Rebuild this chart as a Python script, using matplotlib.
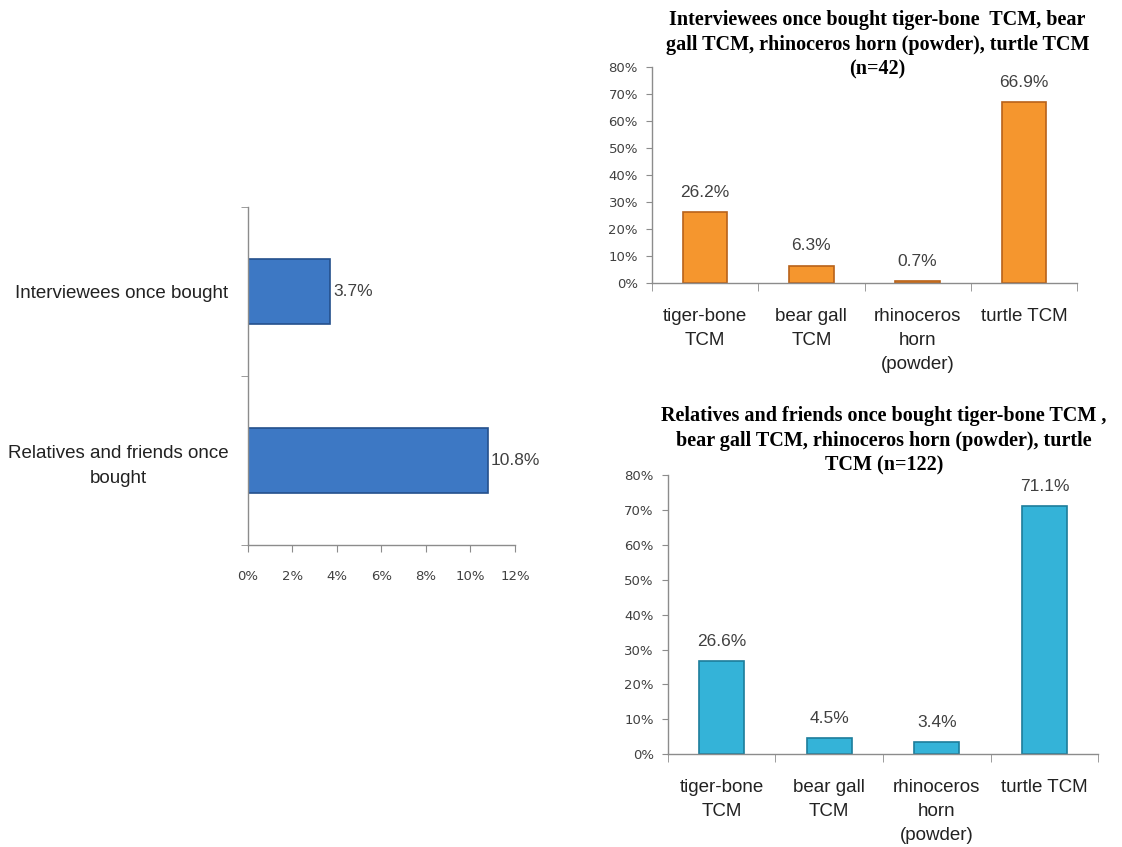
import numpy as np
import matplotlib.pyplot as plt

# left chart: share who once bought
who = ["Relatives and friends once\nbought", "Interviewees once bought"]
who_pct = [10.8, 3.7]

# right charts
items = ["tiger-bone\nTCM", "bear gall\nTCM", "rhinoceros\nhorn\n(powder)", "turtle TCM"]
interviewees_pct = [26.2, 6.3, 0.7, 66.9]
relatives_pct = [26.6, 4.5, 3.4, 71.1]

title_top = ["Interviewees once bought tiger-bone  TCM, bear",
             "gall TCM, rhinoceros horn (powder), turtle TCM",
             "(n=42)"]
title_bot = ["Relatives and friends once bought tiger-bone TCM ,",
             "bear gall TCM, rhinoceros horn (powder), turtle",
             "TCM (n=122)"]

SANS = ["Liberation Sans", "DejaVu Sans"]
TICKF = "DejaVu Sans"
GREY = "#404040"
AXC = "#8c8c8c"

fig = plt.figure(figsize=(11.22, 8.47), dpi=100)


def style_axes(ax):
    for s in ["top", "right"]:
        ax.spines[s].set_visible(False)
    for s in ["left", "bottom"]:
        ax.spines[s].set_color(AXC)
        ax.spines[s].set_linewidth(1.0)


# ---- left horizontal bar chart
ax = fig.add_axes([0.221, 0.3566, 0.238, 0.399])
style_axes(ax)
y = np.arange(len(who))
ax.barh(y, who_pct, height=0.39, color="#3d78c4", edgecolor="#24508c", linewidth=1.2)
ax.set_xlim(0, 12)
ax.set_ylim(-0.5, 1.5)
ax.set_xticks(np.arange(0, 13, 2))
ax.set_xticklabels([f"{v}%" for v in range(0, 13, 2)], fontsize=9.5, family=TICKF, color=GREY)
ax.tick_params(axis="x", length=5, color=AXC, pad=13)
ax.set_yticks(y)
ax.set_yticklabels(who, fontsize=13.5, family=SANS, color="#222222",
                   multialignment="center", linespacing=1.55)
ax.tick_params(axis="y", which="major", length=0, pad=14)
ax.set_yticks([-0.5, 0.5, 1.5], minor=True)
ax.tick_params(axis="y", which="minor", length=5, color=AXC)
for yi, v in zip(y, who_pct):
    ax.annotate(f"{v}%", (v, yi), xytext=(2, 0), textcoords="offset points",
                va="center", ha="left", fontsize=12.5, family=SANS, color=GREY)


def column_chart(rect, vals, face, edge, title, title_x, title_ys):
    ax = fig.add_axes(rect)
    style_axes(ax)
    x = np.arange(len(items))
    ax.bar(x, vals, width=0.42, color=face, edgecolor=edge, linewidth=1.2)
    ax.set_xlim(-0.5, len(items) - 0.5)
    ax.set_ylim(0, 80)
    ax.set_yticks(np.arange(0, 81, 10))
    ax.set_yticklabels([f"{v}%" for v in range(0, 81, 10)], fontsize=9.5, family=TICKF, color=GREY)
    ax.tick_params(axis="y", length=4, color=AXC, pad=6)
    ax.set_xticks(x)
    ax.set_xticklabels(items, fontsize=13.5, family=SANS, color="#222222", va="top",
                       linespacing=1.55)
    ax.tick_params(axis="x", which="major", length=0, pad=18)
    ax.set_xticks(np.arange(-0.5, len(items), 1), minor=True)
    ax.tick_params(axis="x", which="minor", length=6, color=AXC)
    for xi, v in zip(x, vals):
        ax.annotate(f"{v}%", (xi, v), xytext=(0, 9), textcoords="offset points",
                    ha="center", va="bottom", fontsize=12.5, family=SANS, color=GREY)
    for line, ty in zip(title, title_ys):
        fig.text(title_x, 1 - ty / 847, line, ha="center", va="center", fontsize=14.5,
                 family=["Liberation Serif", "DejaVu Serif"], weight="bold")
    return ax


column_chart([0.581, 0.6659, 0.379, 0.255], interviewees_pct, "#f5962e", "#b8621a",
             title_top, 0.782, [20, 45, 69])
column_chart([0.595, 0.1098, 0.384, 0.329], relatives_pct, "#34b3d8", "#1d7d9b",
             title_bot, 0.788, [416, 441, 465])

fig.savefig("out.png", dpi=100)
